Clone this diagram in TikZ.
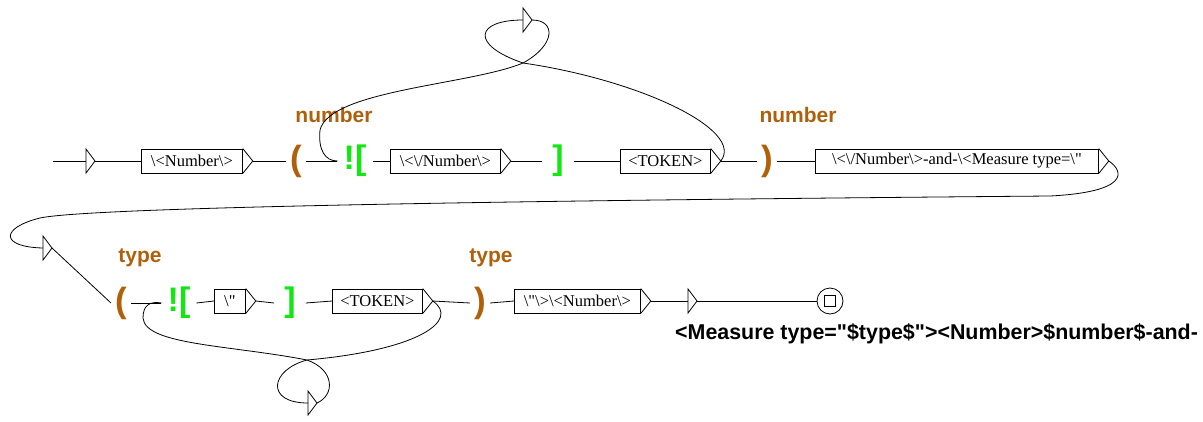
\documentclass[tikz,border=0pt]{standalone}
\usepackage{fontspec}
\setmainfont{Liberation Serif}[Ligatures=TeXOff]
\newfontfamily\lsans{Liberation Sans}[Ligatures=TeXOff]
\definecolor{orng}{RGB}{176,96,10}
\definecolor{grn}{RGB}{20,230,20}
\newcommand\outarr[1]{\draw[ln] (#1.north east) -- ([xshift=10pt]#1.east) coordinate (#1o) -- (#1.south east);}
\newcommand\epstri[1]{\draw[ln] ([yshift=12pt]#1) -- ([xshift=9pt]#1) coordinate (#1a) -- ([yshift=-12pt]#1) -- cycle;}
\begin{document}
\begin{tikzpicture}[x=1pt,y=-1pt,
  ln/.style={line width=0.8pt},
  box/.style={draw, line width=0.8pt, minimum height=24pt, inner xsep=2pt, inner ysep=0pt, anchor=west, font=\fontsize{16.5}{18}\selectfont},
  lbl/.style={text=orng, font=\lsans\bfseries\fontsize{21}{23}\selectfont, inner sep=0pt},
  par/.style={text=orng, font=\lsans\bfseries\fontsize{35}{37}\selectfont, inner xsep=4pt, inner ysep=0pt},
  gr/.style={text=grn, font=\lsans\bfseries\fontsize{34}{36}\selectfont, inner xsep=6pt, inner ysep=0pt},
  outtext/.style={font=\lsans\bfseries\fontsize{21.4}{23}\selectfont, inner sep=0pt, anchor=west}]
\useasboundingbox (0,0) rectangle (1203,421);
% ---------- row 1 ----------
\coordinate (start) at (53,161);
\coordinate (i1) at (86,161);
\epstri{i1}
\node[box, minimum width=101pt] (b1) at (141,161) {\textbackslash<Number\textbackslash>};
\outarr{b1}
\node[par] (p1) at (296,161) {(};
\node[gr] (c1) at (355,161) {![};
\node[box, minimum width=110pt] (b2) at (390,161) {\textbackslash<\textbackslash/Number\textbackslash>};
\outarr{b2}
\node[gr, inner xsep=10pt] (e1) at (558,161) {]};
\node[box, minimum width=90pt] (b3) at (620,161) {<TOKEN>};
\outarr{b3}
\node[par] (p2) at (767,161) {)};
\node[box, minimum width=283pt] (b4) at (815,161) {\textbackslash<\textbackslash/Number\textbackslash>-and-\textbackslash<Measure type=\textbackslash"};
\outarr{b4}
\node[lbl] (l1) at (334,115) {number};
\node[lbl] (l2) at (798,115) {number};
\coordinate (t1) at (523,20);
\epstri{t1}
\coordinate (x1) at (523,63);
% ---------- row 2 ----------
\coordinate (t2) at (43,248);
\epstri{t2}
\node[par] (p3) at (121,303) {(};
\node[gr] (c2) at (179,303) {![};
\node[box, minimum width=31pt] (b5) at (214,301) {\textbackslash"};
\outarr{b5}
\node[gr, inner xsep=10pt] (e2) at (290,303) {]};
\node[box, minimum width=90pt] (b6) at (332,301) {<TOKEN>};
\outarr{b6}
\node[par] (p4) at (480,303) {)};
\node[box, minimum width=126pt] (b7) at (514,301) {\textbackslash"\textbackslash>\textbackslash<Number\textbackslash>};
\outarr{b7}
\coordinate (t3) at (688,301);
\epstri{t3}
\node[draw, ln, circle, minimum size=26pt, inner sep=0pt] (fin) at (830,301) {};
\node[draw, ln, minimum size=11pt, inner sep=0pt] (finsq) at (fin.center) {};
\node[outtext] (out) at (675,334) {<Measure type="\$type\$"><Number>\$number\$-and-};
\node[lbl] (l3) at (140,258) {type};
\node[lbl] (l4) at (491,258) {type};
\coordinate (t4) at (308,403);
\epstri{t4}
\coordinate (x2) at (307,360);
% ---------- connectors ----------
\draw[ln] (start) -- (i1);
\draw[ln] (i1a) -- (b1.west);
\draw[ln] (b1o) -- (p1.west);
\draw[ln] (p1.east) -- (c1.west);
\draw[ln] (c1.east) -- (b2.west);
\draw[ln] (b2o) -- (e1.west);
\draw[ln] (e1.east) -- (b3.west);
\draw[ln] (b3o) -- (p2.west);
\draw[ln] (p2.east) -- (b4.west);
\draw[ln] (b3o) .. controls (745,130) and (640,80) .. (x1) .. controls (470,45) and (475,20) .. (t1);
\draw[ln] (t1a) .. controls (556,20) and (556,45) .. (x1) .. controls (470,85) and (330,90) .. (320,130) .. controls (318,150) and (325,161) .. (c1.west);
\draw[ln] (b4o) .. controls (1125,172) and (1128,192) .. (1050,196) .. controls (700,199) and (100,205) .. (40,218) .. controls (0,228) and (0,247) .. (t2);
\draw[ln] (t2a) -- (p3.west);
\draw[ln] (p3.east) -- (c2.west);
\draw[ln] (c2.east) -- (b5.west);
\draw[ln] (b5o) -- (e2.west);
\draw[ln] (e2.east) -- (b6.west);
\draw[ln] (b6o) -- (p4.west);
\draw[ln] (p4.east) -- (b7.west);
\draw[ln] (b7o) -- (t3);
\draw[ln] (t3a) -- (fin.west);
\draw[ln] (b6o) .. controls (460,320) and (420,350) .. (x2) .. controls (270,370) and (265,403) .. (t4);
\draw[ln] (t4a) .. controls (335,395) and (335,370) .. (x2) .. controls (230,345) and (145,345) .. (143,318) .. controls (143,305) and (150,301) .. (c2.west);
\end{tikzpicture}
\end{document}
